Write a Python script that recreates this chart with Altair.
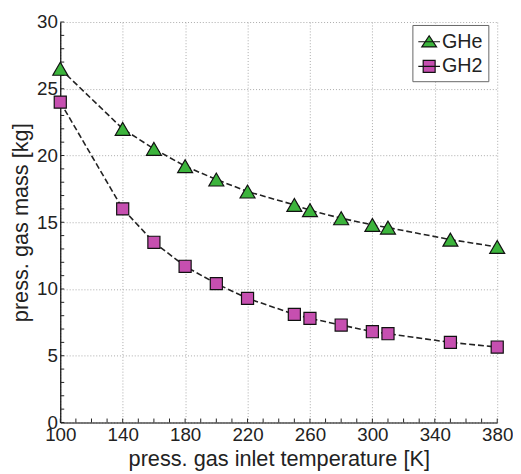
import altair as alt
import pandas as pd

temps = [100, 140, 160, 180, 200, 220, 250, 260, 280, 300, 310, 350, 380]
ghe = [26.5, 22.0, 20.5, 19.2, 18.2, 17.3, 16.3, 15.9, 15.3, 14.8, 14.6, 13.7, 13.15]
gh2 = [24.0, 16.0, 13.5, 11.7, 10.4, 9.3, 8.1, 7.8, 7.3, 6.8, 6.65, 6.0, 5.65]
series = ["GHe", "GH2"]
colors = ["#3cb43c", "#c64fb0"]
x_ticks = [100, 140, 180, 220, 260, 300, 340, 380]
y_ticks = [0, 5, 10, 15, 20, 25, 30]
x_minor = list(range(100, 381, 10))
y_minor = list(range(0, 31, 1))

W, H = 443, 406
FONT = "Liberation Sans"
TXT = "#222222"

df = pd.DataFrame({
    "T": temps * 2,
    "m": ghe + gh2,
    "s": ["GHe"] * len(temps) + ["GH2"] * len(temps),
})
xminor_df = pd.DataFrame({"T": x_minor})
yminor_df = pd.DataFrame({"m": y_minor})

xs = alt.Scale(domain=[100, 380], nice=False, zero=False)
ys = alt.Scale(domain=[0, 30], nice=False)

base = alt.Chart(df)

main_axes = base.mark_point(opacity=0).encode(
    x=alt.X("T:Q", scale=xs, title="press. gas inlet temperature [K]",
            axis=alt.Axis(orient="bottom", values=x_ticks, grid=True, gridDash=[1, 2],
                          gridColor="#aaaaaa", gridWidth=1, ticks=False, domainColor="black",
                          domainWidth=1.2, labelFontSize=19, labelFont=FONT, labelColor=TXT,
                          labelPadding=3, titleFontSize=22, titleFont=FONT, titleColor=TXT,
                          titleFontWeight="normal", titlePadding=5, labelFlush=False)),
    y=alt.Y("m:Q", scale=ys, title="press. gas mass [kg]",
            axis=alt.Axis(orient="left", values=y_ticks, grid=True, gridDash=[1, 2],
                          gridColor="#aaaaaa", gridWidth=1, ticks=False, domainColor="black",
                          domainWidth=1.2, labelFontSize=19, labelFont=FONT, labelColor=TXT,
                          labelPadding=3, titleFontSize=22, titleFont=FONT, titleColor=TXT,
                          titleFontWeight="normal", titlePadding=4)),
)

x_minor_ticks = alt.Chart(xminor_df).mark_rule(color="#222222", strokeWidth=1).encode(
    x=alt.X("T:Q", scale=xs, axis=None),
    y=alt.value(H),
    y2=alt.value(H - 4),
)
y_minor_ticks = alt.Chart(yminor_df).mark_rule(color="#222222", strokeWidth=1).encode(
    y=alt.Y("m:Q", scale=ys, axis=None),
    x=alt.value(0),
    x2=alt.value(4),
)

layers = []
shapes = ["triangle-up", "square"]
sizes = [230, 150]
for name, col, shp, sz in zip(series, colors, shapes, sizes):
    sub = base.transform_filter(alt.datum.s == name)
    line = sub.mark_line(color="#222222", strokeWidth=1.6, strokeDash=[6, 3]).encode(
        x=alt.X("T:Q", scale=xs, axis=None),
        y=alt.Y("m:Q", scale=ys, axis=None),
    )
    pts = sub.mark_point(filled=True, shape=shp, size=sz, fill=col, stroke="#111111",
                         strokeWidth=1.2, opacity=1).encode(
        x=alt.X("T:Q", scale=xs, axis=None),
        y=alt.Y("m:Q", scale=ys, axis=None),
    )
    layers += [line, pts]

tri_path = "M-1,0H1M0,-0.55L0.68,0.48L-0.68,0.48Z"
sq_path = "M-1,0H1M-0.55,-0.55H0.55V0.55H-0.55Z"

legend_layer = base.transform_filter("false").mark_point(
    filled=True, opacity=1, strokeWidth=1.2
).encode(
    x=alt.X("T:Q", scale=xs, axis=None),
    y=alt.Y("m:Q", scale=ys, axis=None),
    shape=alt.Shape("s:N", scale=alt.Scale(domain=series, range=[tri_path, sq_path]),
                    legend=alt.Legend(title=None, orient="none", legendX=357, legendY=3,
                                      labelFontSize=20, labelFont=FONT, labelColor=TXT,
                                      symbolSize=484, symbolStrokeColor="#111111",
                                      symbolStrokeWidth=1.2, strokeColor="#666666",
                                      fillColor="white", padding=5, rowPadding=3,
                                      labelOffset=1, symbolOffset=0)),
    fill=alt.Fill("s:N", scale=alt.Scale(domain=series, range=colors), legend=None),
    stroke=alt.Stroke("s:N", scale=alt.Scale(domain=series, range=["#111111", "#111111"]),
                      legend=None),
)

chart = alt.layer(main_axes, x_minor_ticks, y_minor_ticks, *layers, legend_layer).resolve_axis(
    x="independent", y="independent"
).properties(
    width=W, height=H,
    autosize=alt.AutoSizeParams(type="none"),
    padding={"left": 53, "top": 11, "right": 16, "bottom": 48},
).configure_view(stroke=None).configure_axis(labelFontWeight="normal")

chart.save("out.html", embed_options={"renderer": "svg", "actions": False})
